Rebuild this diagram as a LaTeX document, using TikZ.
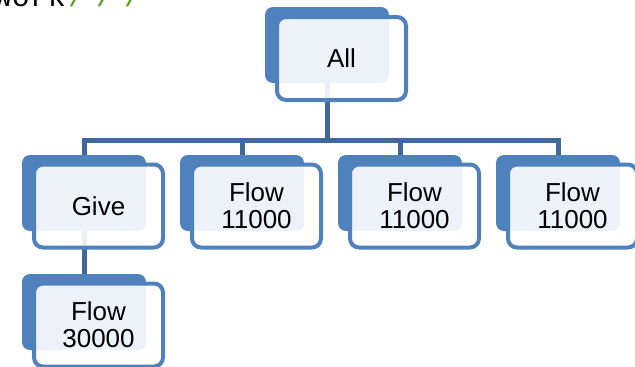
\documentclass[tikz,border=0pt]{standalone}
\usepackage{fontspec}
\setmainfont{Liberation Sans}
\newfontfamily\codefont{Liberation Mono}
\definecolor{accent}{RGB}{79,129,189}
\definecolor{linkc}{RGB}{65,104,154}
\definecolor{codegreen}{RGB}{90,160,30}
\begin{document}
\begin{tikzpicture}[x=1pt,y=-1pt,
  backbox/.style={fill=accent, rounded corners=8pt, minimum width=124pt, minimum height=76pt, inner sep=0pt, outer sep=0pt},
  frontbox/.style={draw=accent, line width=4pt, fill=white, fill opacity=0.9, text opacity=1, rounded corners=9pt, minimum width=129pt, minimum height=83pt, inner sep=0pt, outer sep=0pt, align=center, font=\fontsize{26}{27}\selectfont},
  conn/.style={draw=linkc, line width=5pt},
  codetext/.style={inner sep=0pt, font=\codefont\fontsize{30}{30}\selectfont}]
\useasboundingbox (0,0) rectangle (635,367);
% clipped code fragment at the top edge
\begin{scope}
  \clip (0,0) rectangle (160,10);
  \node[codetext, anchor=base east] (codeA) at (66,6) {work};
  \node[codetext, anchor=base west, text=codegreen] (codeB) at (68,6) {/\hspace{10pt}/\hspace{10pt}/};
\end{scope}
% back boxes
\node[backbox] (allb) at (327,45) {};
\node[backbox] (giveb) at (84,193) {};
\node[backbox] (f2b) at (242,193) {};
\node[backbox] (f3b) at (400,193) {};
\node[backbox] (f4b) at (558,193) {};
\node[backbox] (f5b) at (84,312) {};
% connectors
\coordinate (bus) at (0,140);
\draw[conn] (allb.south) -- (allb.south |- bus);
\draw[conn] (giveb.north) -- (giveb.north |- bus) -- (f4b.north |- bus) -- (f4b.north);
\draw[conn] (f2b.north) -- (f2b.north |- bus);
\draw[conn] (f3b.north) -- (f3b.north |- bus);
\draw[conn] (giveb.south) -- (f5b.north);
% front boxes
\node[frontbox] (all) at (341.5,58.5) {All};
\node[frontbox] (give) at (98.5,206) {Give};
\node[frontbox] (f2) at (256.5,206) {Flow\\11000};
\node[frontbox] (f3) at (414.5,206) {Flow\\11000};
\node[frontbox] (f4) at (572.5,206) {Flow\\11000};
\node[frontbox] (f5) at (98.5,325) {Flow\\30000};
\end{tikzpicture}
\end{document}
